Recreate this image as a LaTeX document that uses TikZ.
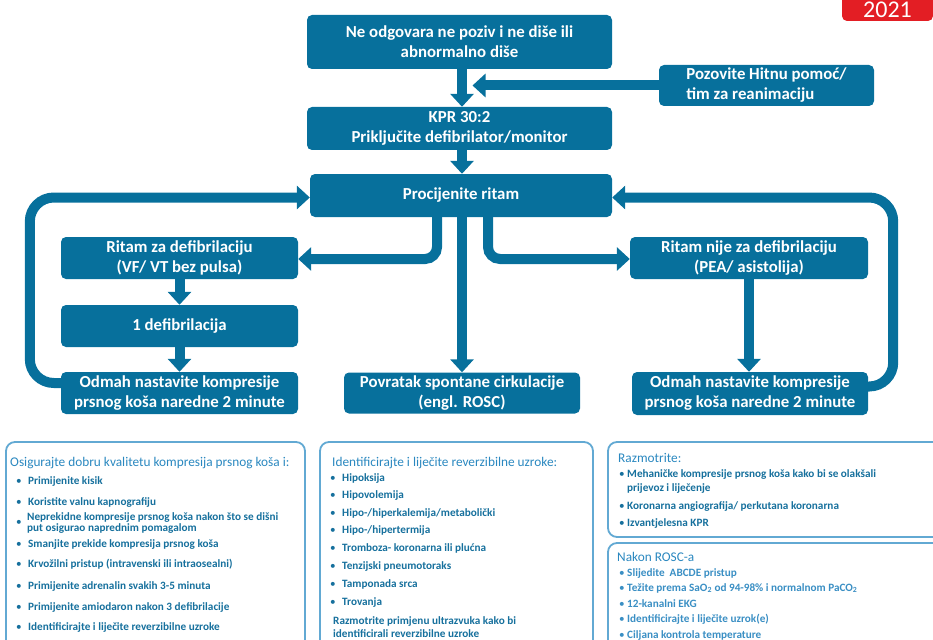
\documentclass[tikz,border=0pt]{standalone}
\usepackage{fontspec}
\setmainfont{Carlito}
\usetikzlibrary{arrows.meta}
\definecolor{boxblue}{HTML}{07709C}
\definecolor{panelblue}{HTML}{62A9D3}
\definecolor{headblue}{HTML}{2A88C0}
\definecolor{itemblue}{HTML}{16709D}
\definecolor{itemlight}{HTML}{3A8FC4}
\definecolor{ercred}{HTML}{E31E24}
\newcommand{\bu}[1]{\makebox[#1][l]{\mdseries\textbullet}}
\begin{document}
\begin{tikzpicture}[x=1pt,y=-1pt,
  box/.style={fill=boxblue, rounded corners=5pt, text=white, font=\bfseries\fontsize{16.8}{20}\selectfont, align=center, inner sep=0pt},
  flow/.style={draw=boxblue, line width=10pt, -{Triangle[length=13pt,width=23pt]}},
  loopflow/.style={flow, rounded corners=24pt},
  branch/.style={flow, rounded corners=12pt},
  panel/.style={draw=panelblue, line width=1.8pt, rounded corners=9pt, fill=white, inner sep=0pt},
  head/.style={anchor=base west, text=headblue, font=\fontsize{13.3}{15}\selectfont, inner sep=0pt},
  item/.style={anchor=base west, text=itemblue, font=\bfseries\fontsize{11.2}{13}\selectfont, inner sep=0pt},
  itemL/.style={item, text=itemlight}
]
\useasboundingbox (0,0) rectangle (933,639);
\clip (0,0) rectangle (933,639);

% red year tag
\node[fill=ercred, rounded corners=5pt, minimum width=91pt, minimum height=31pt, inner sep=0pt] (yr) at (887.5,5.5) {};
\node[anchor=base, text=white, font=\fontsize{24}{24}\selectfont, inner sep=0pt] (yt) at (887.5,17.5) {2021};

% flow boxes
\node[box, minimum width=305pt, minimum height=54pt] (ne) at (459.5,42) {Ne odgovara ne poziv i ne diše ili\\abnormalno diše};
\node[box, minimum width=215pt, minimum height=41pt, align=left] (poz) at (766.5,85.5) {Pozovite Hitnu pomoć/\\tim za reanimaciju};
\node[box, minimum width=305pt, minimum height=43pt] (kpr) at (459.5,128.5) {KPR 30:2\\Priključite defibrilator/monitor};
\node[box, minimum width=302pt, minimum height=43pt] (proc) at (461,195.5) {Procijenite ritam};
\node[box, minimum width=237pt, minimum height=42pt] (rdef) at (179.5,258) {Ritam za defibrilaciju\\(VF/ VT bez pulsa)};
\node[box, minimum width=237pt, minimum height=42pt] (def1) at (179.5,326) {1 defibrilacija};
\node[box, minimum width=237pt, minimum height=42pt] (odL) at (179.5,393) {Odmah nastavite kompresije\\prsnog koša naredne 2 minute};
\node[box, minimum width=236pt, minimum height=41pt] (rosc) at (462,393) {Povratak spontane cirkulacije\\(engl. ROSC)};
\node[box, minimum width=238pt, minimum height=42pt] (rnije) at (749,258) {Ritam nije za defibrilaciju\\(PEA/ asistolija)};
\node[box, minimum width=236pt, minimum height=43pt] (odR) at (750,393.5) {Odmah nastavite kompresije\\prsnog koša naredne 2 minute};

% connectors
\draw[flow] ([xshift=2.5pt]ne.south) -- ([xshift=2.5pt]kpr.north);
\draw[flow] (poz.west) -- ([xshift=13pt]ne.south |- poz.west);
\draw[flow] ([xshift=2.5pt]kpr.south) -- ([xshift=1pt]proc.north);
\draw[branch] ([xshift=-24pt]proc.south) |- ([yshift=-1pt]rdef.east);
\draw[flow] ([xshift=1pt]proc.south) -- ([xshift=1pt]proc.south |- rosc.north);
\draw[branch] ([xshift=27pt]proc.south) |- ([yshift=-1pt]rnije.west);
\draw[flow] (rdef.south) -- (def1.north);
\draw[flow] (def1.south) -- (odL.north);
\draw[flow] (rnije.south) -- (rnije.south |- odR.north);
\draw[loopflow] ([yshift=10pt]odL.west) -- ++(-31pt,0) |- ([yshift=-2pt]proc.west);
\draw[loopflow] ([yshift=7pt]odR.east) -- ++(25pt,0) |- ([yshift=-2pt]proc.east);

% bottom panels
\node[panel, minimum width=299pt, minimum height=218pt] (pL) at (155.5,551) {};
\node[panel, minimum width=273pt, minimum height=218pt] (pM) at (456.5,551) {};
\node[panel, minimum width=337pt, minimum height=95pt] (pRT) at (776.5,489.5) {};
\node[panel, minimum width=337pt, minimum height=117pt] (pRB) at (776.5,601.5) {};

% left panel text
\node[head] (lh) at (10,466.5) {Osigurajte dobru kvalitetu kompresija prsnog koša i:};
\node[item] (l1) at (16,484) {\bu{12pt}Primijenite kisik};
\node[item] (l2) at (16,505) {\bu{12pt}Koristite valnu kapnografiju};
\node[item] (l3b) at (16,525) {\bu{12pt}};
\node[item] (l3) at (27,520.5) {Neprekidne kompresije prsnog koša nakon što se dišni};
\node[item] (l3c) at (27,531.5) {put osigurao naprednim pomagalom};
\node[item] (l4) at (16,547) {\bu{12pt}Smanjite prekide kompresija prsnog koša};
\node[item] (l5) at (16,567) {\bu{12pt}Krvožilni pristup (intravenski ili intraosealni)};
\node[item] (l6) at (16,589) {\bu{12pt}Primijenite adrenalin svakih 3-5 minuta};
\node[item] (l7) at (16,610) {\bu{12pt}Primijenite amiodaron nakon 3 defibrilacije};
\node[item] (l8) at (16,630) {\bu{12pt}Identificirajte i liječite reverzibilne uzroke};

% middle panel text
\node[head] (mh) at (332,466.5) {Identificirajte i liječite reverzibilne uzroke:};
\node[item] (m1) at (330,481) {\bu{12pt}Hipoksija};
\node[item] (m2) at (330,498) {\bu{12pt}Hipovolemija};
\node[item] (m3) at (330,516) {\bu{12pt}Hipo-/hiperkalemija/metabolički};
\node[item] (m4) at (330,533) {\bu{12pt}Hipo-/hipertermija};
\node[item] (m5) at (330,551) {\bu{12pt}Tromboza- koronarna ili plućna};
\node[item] (m6) at (330,569) {\bu{12pt}Tenzijski pneumotoraks};
\node[item] (m7) at (330,587) {\bu{12pt}Tamponada srca};
\node[item] (m8) at (330,605) {\bu{12pt}Trovanja};
\node[item] (m9) at (333,624) {Razmotrite primjenu ultrazvuka kako bi};
\node[item] (m10) at (333,637.5) {identificirali reverzibilne uzroke};

% right top panel text
\node[head] (rh) at (618,462) {Razmotrite:};
\node[item] (r1) at (619,477) {\bu{8pt}Mehaničke kompresije prsnog koša kako bi se olakšali};
\node[item] (r1b) at (627,491) {prijevoz i liječenje};
\node[item] (r2) at (619,509) {\bu{8pt}Koronarna angiografija/ perkutana koronarna};
\node[item] (r3) at (619,526) {\bu{8pt}Izvantjelesna KPR};

% right bottom panel text
\node[head] (nh) at (617,561) {Nakon ROSC-a};
\node[itemL] (n1) at (619,576) {\bu{8pt}Slijedite\ \ ABCDE pristup};
\node[itemL] (n2) at (619,591) {\bu{8pt}Težite prema SaO\textsubscript{2} od 94-98\% i normalnom PaCO\textsubscript{2}};
\node[itemL] (n3) at (619,607) {\bu{8pt}12-kanalni EKG};
\node[itemL] (n4) at (619,622.5) {\bu{8pt}Identificirajte i liječite uzrok(e)};
\node[itemL] (n5) at (619,638) {\bu{8pt}Ciljana kontrola temperature};
\end{tikzpicture}
\end{document}
